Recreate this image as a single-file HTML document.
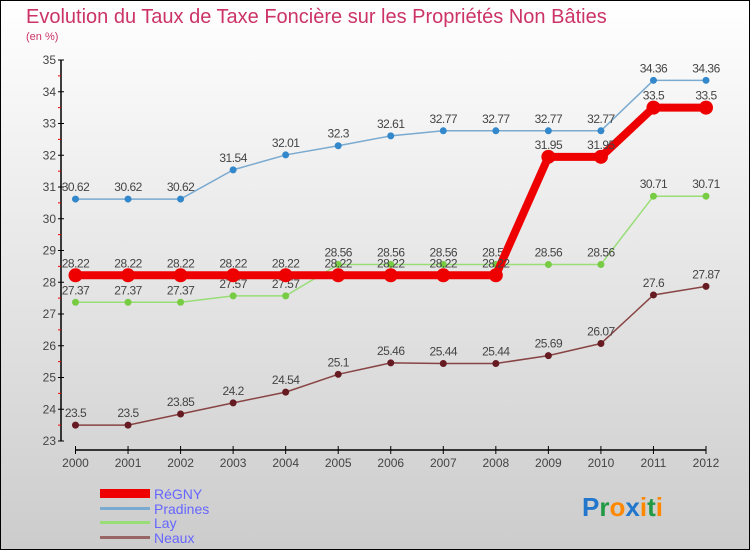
<!DOCTYPE html>
<html><head><meta charset="utf-8"><style>
body{margin:0;width:750px;height:550px;overflow:hidden;font-family:"Liberation Sans",sans-serif}
svg{display:block}
</style></head><body>
<svg id="c" width="750" height="550" xmlns="http://www.w3.org/2000/svg">
<defs><linearGradient id="bg" x1="0" y1="0" x2="0" y2="1"><stop offset="0" stop-color="#ffffff"/><stop offset="1" stop-color="#cccccc"/></linearGradient></defs>
<rect x="0.5" y="0.5" width="749" height="549" fill="url(#bg)" stroke="#000"/>
<text x="26" y="23" font-size="20" fill="#cc3366">Evolution du Taux de Taxe Foncière sur les Propriétés Non Bâties</text>
<text x="26" y="40" font-size="11" fill="#cc3366">(en %)</text>
<g id="axes"></g><g id="series"></g>
<g>
<rect x="100" y="489" width="50" height="9" fill="#ee0000"/>
<text x="154" y="499" font-size="14" fill="#6666ff">RéGNY</text>
<rect x="100" y="507" width="50" height="3" fill="#7aaad0"/>
<text x="154" y="514" font-size="14" fill="#6666ff">Pradines</text>
<rect x="100" y="521" width="50" height="3" fill="#99dd77"/>
<text x="154" y="528" font-size="14" fill="#6666ff">Lay</text>
<rect x="100" y="536" width="50" height="3" fill="#996666"/>
<text x="154" y="543" font-size="14" fill="#6666ff">Neaux</text>
</g>
<text x="582" y="516" font-size="26" font-weight="bold"><tspan fill="#2277cc">P</tspan><tspan fill="#229944">r</tspan><tspan fill="#ff8800">o</tspan><tspan fill="#2277cc">x</tspan><tspan fill="#ff8800">i</tspan><tspan fill="#229944">t</tspan><tspan fill="#ff8800">i</tspan></text>
</svg>
<script>
const years=["2000","2001","2002","2003","2004","2005","2006","2007","2008","2009","2010","2011","2012"];
const yTicks=[23,24,25,26,27,28,29,30,31,32,33,34,35];
const regny=[28.22,28.22,28.22,28.22,28.22,28.22,28.22,28.22,28.22,31.95,31.95,33.5,33.5];
const pradines=[30.62,30.62,30.62,31.54,32.01,32.3,32.61,32.77,32.77,32.77,32.77,34.36,34.36];
const lay=[27.37,27.37,27.37,27.57,27.57,28.56,28.56,28.56,28.56,28.56,28.56,30.71,30.71];
const neaux=[23.5,23.5,23.85,24.2,24.54,25.1,25.46,25.44,25.44,25.69,26.07,27.6,27.87];
const NS="http://www.w3.org/2000/svg";
const X=i=>75.5+i*(706-75.5)/(years.length-1);
const Y=v=>441-(v-23)*(441-60)/12;
function mk(p,t,a){const e=document.createElementNS(NS,t);for(const k in a)e.setAttribute(k,a[k]);p.appendChild(e);return e;}
const ax=document.getElementById('axes');
mk(ax,'line',{x1:61,y1:Y(35),x2:61,y2:Y(23),stroke:'#000','stroke-width':1.5});
mk(ax,'line',{x1:75.5,y1:450,x2:706,y2:450,stroke:'#000','stroke-width':1.5});
yTicks.forEach(v=>{
 mk(ax,'line',{x1:58,y1:Y(v),x2:64,y2:Y(v),stroke:'#000'});
 if(v<35)mk(ax,'line',{x1:58,y1:Y(v+0.5),x2:61,y2:Y(v+0.5),stroke:'#e00'});
 const t=mk(ax,'text',{x:56,y:Y(v)+4,'font-size':12,fill:'#444','text-anchor':'end'});t.textContent=v;
 
 
});
years.forEach((y,i)=>{
 mk(ax,'line',{x1:X(i),y1:446,x2:X(i),y2:454,stroke:'#000'});
 const t=mk(ax,'text',{x:X(i),y:467,'font-size':12,fill:'#444','text-anchor':'middle'});t.textContent=y;
 
 
});
const sg=document.getElementById('series');
function draw(name,data,color,dot,w,r){
 const g=mk(sg,'g',{});
 
 
 mk(g,'polyline',{points:data.map((v,i)=>X(i)+','+Y(v)).join(' '),fill:'none',stroke:color,'stroke-width':w,'stroke-linejoin':'round'});
 data.forEach((v,i)=>{
  const c=mk(g,'circle',{cx:X(i),cy:Y(v),r:r,fill:dot});
  
  
  const t=mk(g,'text',{x:X(i),y:Y(v)-8,'font-size':12,fill:'#444','text-anchor':'middle','letter-spacing':'-0.5'});t.textContent=v;
  
  
 });
}
draw('neaux',neaux,'#884444','#661a22',1.5,3.5);
draw('lay',lay,'#99dd77','#77cc44',1.5,3.5);
draw('pradines',pradines,'#7aaad0','#3388cc',1.5,3.5);
draw('regny',regny,'#ee0000','#ee0000',8,7);
</script>
</body></html>
